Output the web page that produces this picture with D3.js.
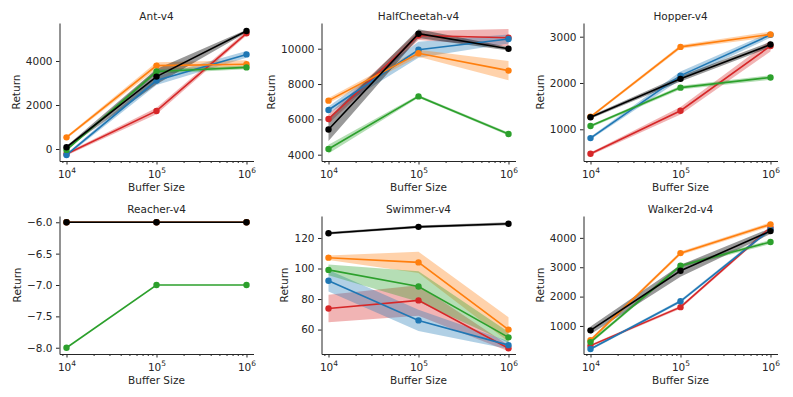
<!DOCTYPE html>
<html>
<head>
<meta charset="utf-8">
<style>
  body { margin: 0; background: #fff; }
  text { font-family: "DejaVu Sans", sans-serif; fill: #262626; }
  .domain, .tick line { stroke: #262626; stroke-width: 1; }
</style>
</head>
<body>
<script src="https://d3js.org/d3.v7.min.js"></script>
<script>
// x values shared by every panel
var bufferSizes = [1e4, 1e5, 1e6];
var minorTicks = [9e3, 2e4, 3e4, 4e4, 5e4, 6e4, 7e4, 8e4, 9e4, 2e5, 3e5, 4e5, 5e5, 6e5, 7e5, 8e5, 9e5];

// series drawn in this order: red, blue, orange, green, black
var seriesColors = ["#d62728", "#1f77b4", "#ff7f0e", "#2ca02c", "#000000"];

var titles = ["Ant-v4", "HalfCheetah-v4", "Hopper-v4", "Reacher-v4", "Swimmer-v4", "Walker2d-v4"];

// mean return per series, and half-width of the shaded band
var antMean = [[-230, 1730, 5260], [-270, 3110, 4300], [530, 3790, 3850], [-40, 3520, 3710], [80, 3290, 5360]];
var antErr  = [[60, 150, 100], [60, 200, 150], [60, 150, 180], [50, 100, 80], [60, 350, 60]];

var cheetahMean = [[6020, 10750, 10620], [6530, 9940, 10550], [7060, 9740, 8760], [4320, 7300, 5170], [5430, 10850, 10000]];
var cheetahErr  = [[250, 250, 500], [200, 450, 250], [150, 200, 550], [250, 80, 80], [650, 250, 100]];

var hopperMean = [[470, 1400, 2800], [810, 2160, 3040], [1270, 2780, 3050], [1070, 1900, 2120], [1260, 2090, 2830]];
var hopperErr  = [[30, 80, 120], [30, 90, 60], [30, 40, 60], [30, 40, 50], [30, 60, 60]];

var reacherMean = [[-6, -6, -6], [-6, -6, -6], [-6, -6, -6], [-8, -7, -7], [-6, -6, -6]];
var reacherErr  = [[0, 0, 0], [0, 0, 0], [0, 0, 0], [0, 0, 0], [0, 0, 0]];

var swimmerMean = [[73.8, 79.1, 47.8], [92, 66, 49.8], [107.1, 104, 60], [99.1, 88.2, 54.9], [123.1, 127.3, 129.3]];
var swimmerErr  = [[9, 10, 2], [7, 7, 2.5], [1.5, 7, 8], [3.5, 10, 3.5], [0.8, 0.8, 1]];

var walkerMean = [[330, 1640, 4350], [215, 1840, 4290], [515, 3480, 4460], [450, 3050, 3860], [850, 2880, 4230]];
var walkerErr  = [[40, 50, 60], [40, 50, 60], [60, 60, 70], [60, 60, 70], [130, 200, 100]];

var allMeans = [antMean, cheetahMean, hopperMean, reacherMean, swimmerMean, walkerMean];
var allErrs = [antErr, cheetahErr, hopperErr, reacherErr, swimmerErr, walkerErr];

var yTicks = [
  [0, 2000, 4000],
  [4000, 6000, 8000, 10000],
  [1000, 2000, 3000],
  [-8, -7.5, -7, -6.5, -6],
  [60, 80, 100, 120],
  [1000, 2000, 3000, 4000]
];
var yDomains = [[-545, 5727], [3643, 11456], [315, 3296], [-8.1, -5.9], [44, 134.4], [45, 4745]];

var width = 793, height = 397;
var colLeft = [59.5, 321.5, 583.5], rowTop = [23, 216];
var pw = 194, ph = 138;
var margin = 0.0778; // in decades

var svg = d3.select("body").append("svg")
  .attr("width", width)
  .attr("height", height);

var x = d3.scaleLog()
  .domain([Math.pow(10, 4 - margin), Math.pow(10, 6 + margin)])
  .range([0, pw]);

titles.forEach(function(title, i) {
  var g = svg.append("g")
    .attr("transform", "translate(" + colLeft[i % 3] + "," + rowTop[Math.floor(i / 3)] + ")");

  var y = d3.scaleLinear().domain(yDomains[i]).range([ph, 0]);

  var fmt = i === 3 ? d3.format(".1f") : d3.format("d");

  var yAxis = g.append("g")
    .call(d3.axisLeft(y).tickValues(yTicks[i]).tickSize(3.5).tickPadding(3.5).tickSizeOuter(0).tickFormat(fmt));
  yAxis.selectAll("text").style("font-size", "10.5px");

  g.append("g")
    .attr("transform", "translate(0," + ph + ")")
    .call(d3.axisBottom(x).tickValues(minorTicks).tickSize(2).tickSizeOuter(0).tickFormat(""))
    .select(".domain").remove();

  var xAxis = g.append("g")
    .attr("transform", "translate(0," + ph + ")")
    .call(d3.axisBottom(x).tickValues(bufferSizes).tickSize(3.5).tickSizeOuter(0).tickFormat(""));

  xAxis.selectAll(".tick").append("text")
    .attr("y", 16.5)
    .attr("text-anchor", "middle")
    .style("font-size", "10.5px")
    .each(function(d) {
      var t = d3.select(this);
      t.append("tspan").text("10");
      t.append("tspan").attr("dy", -5).style("font-size", "7.5px").text(Math.round(Math.log10(d)));
    });

  g.append("text")
    .attr("x", pw / 2)
    .attr("y", ph + 30)
    .attr("text-anchor", "middle")
    .style("font-size", "10.5px")
    .text("Buffer Size");

  var maxW = 0;
  yAxis.selectAll("text").each(function() { maxW = Math.max(maxW, this.getComputedTextLength()); });
  g.append("text")
    .attr("transform", "translate(" + (-(7 + maxW + 6)) + "," + (ph / 2) + ") rotate(-90)")
    .attr("text-anchor", "middle")
    .style("font-size", "10.5px")
    .text("Return");

  g.append("text")
    .attr("x", pw / 2)
    .attr("y", -3.5)
    .attr("text-anchor", "middle")
    .style("font-size", "10.5px")
    .text(title);

  var means = allMeans[i], errs = allErrs[i];

  var area = d3.area()
    .x(function(d) { return x(d.x); })
    .y0(function(d) { return y(d.m - d.e); })
    .y1(function(d) { return y(d.m + d.e); });
  var line = d3.line()
    .x(function(d) { return x(d.x); })
    .y(function(d) { return y(d.m); });

  means.forEach(function(row, s) {
    var pts = bufferSizes.map(function(b, k) { return { x: b, m: row[k], e: errs[s][k] }; });
    g.append("path")
      .datum(pts)
      .attr("d", area)
      .attr("fill", seriesColors[s])
      .attr("fill-opacity", s === 4 ? 0.4 : 0.35)
      .attr("stroke", "none");
  });

  means.forEach(function(row, s) {
    var pts = bufferSizes.map(function(b, k) { return { x: b, m: row[k], e: errs[s][k] }; });
    g.append("path")
      .datum(pts)
      .attr("d", line)
      .attr("fill", "none")
      .attr("stroke", seriesColors[s])
      .attr("stroke-width", 1.6);
    g.selectAll(null)
      .data(pts)
      .enter()
      .append("circle")
      .attr("cx", function(d) { return x(d.x); })
      .attr("cy", function(d) { return y(d.m); })
      .attr("r", 3.2)
      .attr("fill", seriesColors[s]);
  });
});
</script>
</body>
</html>
